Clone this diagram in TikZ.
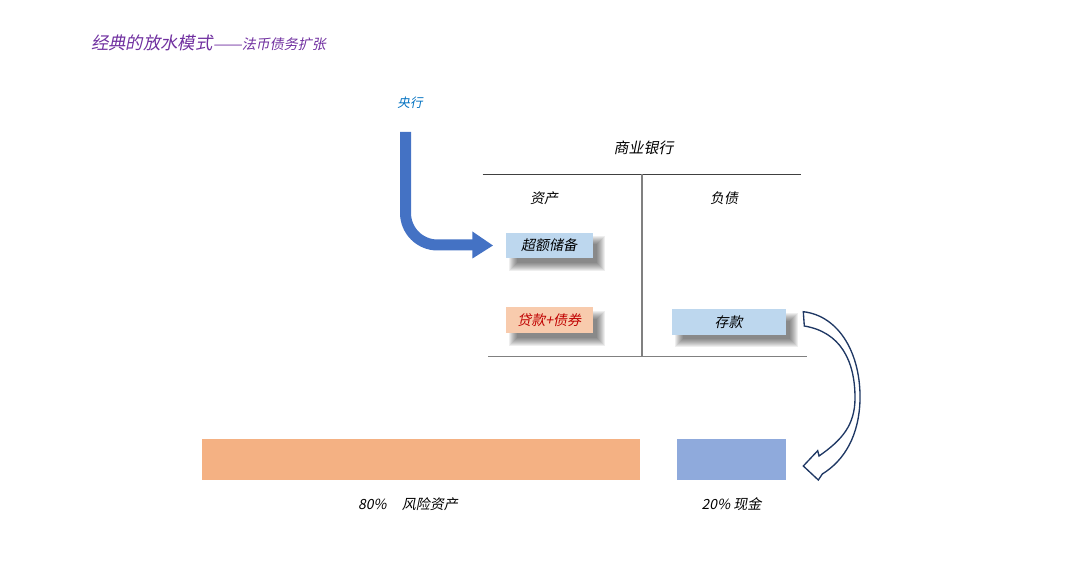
\documentclass[tikz,border=0pt]{standalone}
\usepackage{fontspec}
\setmainfont{Noto Sans CJK SC}[FakeSlant=0.2]
\usetikzlibrary{calc,backgrounds}
\definecolor{ttlc}{HTML}{7030A0}
\definecolor{cbc}{HTML}{0070C0}
\definecolor{lblue}{HTML}{BDD7EE}
\definecolor{lorange}{HTML}{F8CBAD}
\definecolor{redtxt}{HTML}{C00000}
\definecolor{arrowblue}{HTML}{4472C4}
\definecolor{barorange}{HTML}{F4B183}
\definecolor{barblue}{HTML}{8FAADC}
\definecolor{navy}{HTML}{1F3864}
\definecolor{darkline}{HTML}{404040}
\definecolor{grayline}{HTML}{808080}
\newcommand\boxshadow[1]{%
  \begin{scope}[on background layer]
    \foreach \r in {-4,...,4}{%
      \fill[black,opacity=0.065] ($(#1.north west)+(8+\r,8+\r)$) rectangle ($(#1.south east)+(8-\r,8-\r)$);}
  \end{scope}}
\begin{document}
\begin{tikzpicture}[x=0.75pt,y=-0.75pt,
  txt/.style={inner sep=0pt, font=\fontsize{10.5pt}{12pt}\selectfont},
  acctbox/.style={inner sep=0pt, minimum height=19.4pt, font=\fontsize{10.5pt}{12pt}\selectfont},
  bar/.style={inner sep=0pt, minimum height=30.75pt},
  tline/.style={line width=1pt}]
\useasboundingbox (0,0) rectangle (1080,573);

% title
\node[txt, anchor=west, text=ttlc] (title) at (91,43)
  {{\fontsize{13pt}{15pt}\selectfont 经典的放水模式}\scalebox{1.25}[1]{——}法币债务扩张};

% central bank
\node[txt, text=cbc, font=\fontsize{9.4pt}{11pt}\selectfont] (cb) at (410,102.5) {央行};

% T account
\node[txt, font=\fontsize{11.2pt}{13pt}\selectfont] (bank) at (643.5,147.5) {商业银行};
\coordinate (tl) at (482.7,174.3);
\coordinate (tr) at (800.7,174.3);
\coordinate (vt) at (642,174.3);
\coordinate (vb) at (642,356.7);
\coordinate (bl) at (488.3,356.7);
\coordinate (br) at (806.7,356.7);
\draw[tline, darkline] (tl) -- (tr);
\draw[tline, grayline] (vt) -- (vb);
\draw[tline, grayline] (bl) -- (br);
\node[txt] (assets) at (544,198.3) {资产};
\node[txt] (liab) at (724,198.3) {负债};

% boxes
\node[acctbox, fill=lblue, minimum width=65.25pt] (reserve) at (549.2,245.5) {超额储备};
\node[acctbox, fill=lorange, minimum width=65.25pt, text=redtxt] (loan) at (549.2,320.3) {贷款+债券};
\node[acctbox, fill=lblue, minimum width=85.5pt] (deposit) at (728.7,321.8) {存款};
\boxshadow{reserve}
\boxshadow{loan}
\boxshadow{deposit}

% blue arrow from central bank
\coordinate (cbtop) at (405.5,132);
\coordinate (ahead) at ($(reserve.west)+(-32.5,-0.5)$);
\draw[arrowblue, line width=8.25pt, rounded corners=24pt] (cbtop) |- (ahead);
\fill[arrowblue] ($(ahead)+(-0.5,-13.5)$) -- ($(reserve.west)+(-12.5,0)$) -- ($(ahead)+(-0.5,13.5)$) -- cycle;

% bars
\node[bar, fill=barorange, minimum width=328.5pt] (risk) at (421,459.5) {};
\node[bar, fill=barblue, minimum width=81.75pt] (cash) at (731.5,459.5) {};
\node[txt] (risklbl) at (408,504) {80\%\hspace{1.1em}风险资产};
\node[txt] (cashlbl) at (731.5,504) {20\% 现金};

% curved outline arrow
\draw[navy, line width=1pt, fill=white, line join=miter]
  (803.3,311.7) .. controls (840,316) and (861,355) .. (860,400)
  .. controls (859,435) and (845,460) .. (822.3,474)
  -- (818.3,480) -- (803.3,466) -- (817.7,450.7) -- (819,456)
  .. controls (842,440) and (855,425) .. (855,398)
  .. controls (855,360) and (840,332) .. (804.3,326) -- cycle;
\end{tikzpicture}
\end{document}
